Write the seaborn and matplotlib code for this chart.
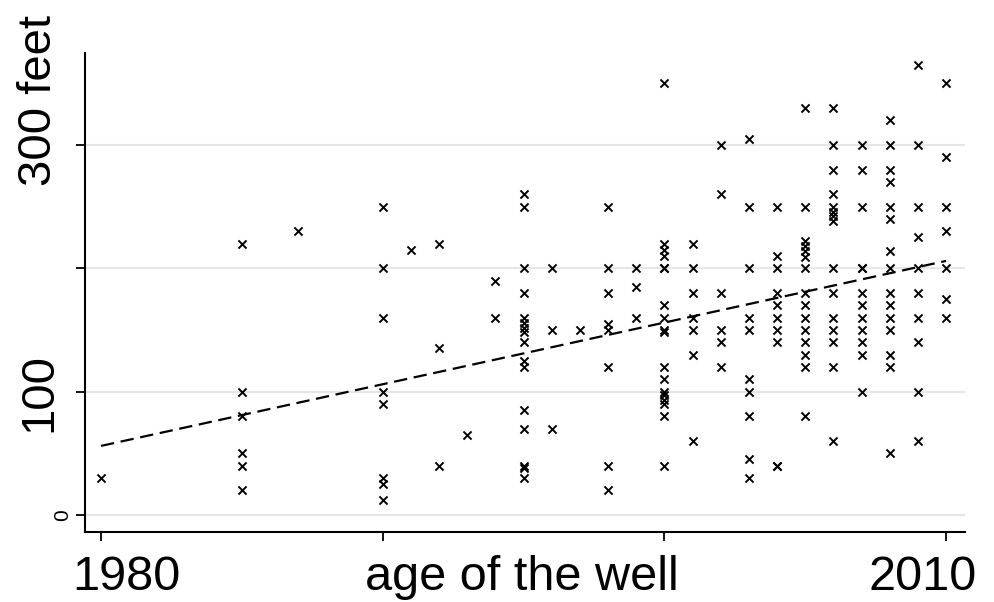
import numpy as np
import pandas as pd
import matplotlib
matplotlib.use("Agg")
import matplotlib.pyplot as plt
import seaborn as sns

# ---- data ----
yr_1980 = [30]
yr_1985 = [220, 100, 80, 50, 40, 20]
yr_1987 = [230]
yr_1990 = [250, 200, 160, 100, 90, 30, 25, 12]
yr_1991 = [215]
yr_1992 = [220, 135, 40]
yr_1993 = [65]
yr_1994 = [190, 160]
yr_1995 = [260, 250, 200, 180, 160, 156, 152, 148, 140, 125, 120, 85, 70, 40, 38, 30]
yr_1996 = [200, 150, 70]
yr_1997 = [150]
yr_1998 = [250, 200, 180, 155, 150, 120, 40, 20]
yr_1999 = [200, 185, 160]
yr_2000 = [350, 220, 215, 210, 200, 200, 170, 160, 150, 148, 120, 110, 100, 97, 93, 90, 80, 40]
yr_2001 = [220, 200, 180, 160, 150, 130, 60]
yr_2002 = [300, 260, 180, 150, 140, 120]
yr_2003 = [305, 250, 200, 160, 150, 110, 100, 80, 45, 30]
yr_2004 = [250, 210, 200, 180, 170, 160, 150, 140, 40, 40]
yr_2005 = [330, 250, 222, 218, 214, 209, 200, 180, 170, 160, 150, 140, 130, 120, 80]
yr_2006 = [330, 300, 280, 260, 250, 246, 242, 238, 200, 180, 160, 150, 140, 120, 60]
yr_2007 = [300, 280, 250, 200, 200, 180, 170, 160, 150, 140, 130, 100]
yr_2008 = [320, 300, 280, 270, 250, 240, 214, 200, 180, 170, 160, 150, 130, 120, 50]
yr_2009 = [365, 300, 250, 225, 200, 180, 160, 140, 100, 60]
yr_2010 = [350, 290, 250, 230, 200, 175, 160]

trend_years = [1980, 2010]
trend_depth = [56, 206]

x_ticks = [1980, 1990, 2000, 2010]
y_ticks = [0, 100, 200, 300]

groups = {
    1980: yr_1980, 1985: yr_1985, 1987: yr_1987, 1990: yr_1990, 1991: yr_1991,
    1992: yr_1992, 1993: yr_1993, 1994: yr_1994, 1995: yr_1995, 1996: yr_1996,
    1997: yr_1997, 1998: yr_1998, 1999: yr_1999, 2000: yr_2000, 2001: yr_2001,
    2002: yr_2002, 2003: yr_2003, 2004: yr_2004, 2005: yr_2005, 2006: yr_2006,
    2007: yr_2007, 2008: yr_2008, 2009: yr_2009, 2010: yr_2010,
}
df = pd.DataFrame([(y, d) for y, ds in groups.items() for d in ds], columns=["year", "depth"])
trend = pd.DataFrame({"year": trend_years, "depth": trend_depth})

sns.set_style("white")
plt.rcParams["font.family"] = ["Liberation Sans", "DejaVu Sans"]
plt.rcParams["text.color"] = "black"
plt.rcParams["xtick.color"] = "black"
plt.rcParams["ytick.color"] = "black"

W, H = 994, 602
fig = plt.figure(figsize=(W / 100, H / 100), dpi=100)
L, R, B, T = 85, 965, 532, 52.7
ax = fig.add_axes([L / W, 1 - B / H, (R - L) / W, (B - T) / H])

sns.scatterplot(data=df, x="year", y="depth", marker="x", color="black",
                s=34, linewidth=1.4, ax=ax, zorder=3)
sns.lineplot(data=trend, x="year", y="depth", color="black", lw=1.6,
             linestyle=(0, (6, 3)), ax=ax, zorder=2)

ax.set_xlim(1979.43, 2010.67)
ax.set_ylim(-13.8, 374.8)
ax.set_xticks(x_ticks)
ax.set_xticklabels([""] * len(x_ticks))
ax.set_yticks(y_ticks)
ax.set_yticklabels(["0", "", "", ""], rotation=90, va="center", fontsize=15, color="black")
ax.set_xlabel("")
ax.set_ylabel("")
ax.yaxis.grid(True, color="#e6e6e6", lw=1.5)
ax.xaxis.grid(False)
ax.set_axisbelow(True)
for s in ["top", "right"]:
    ax.spines[s].set_visible(False)
for s in ["left", "bottom"]:
    ax.spines[s].set_color("black")
    ax.spines[s].set_linewidth(1.5)
ax.tick_params(axis="both", which="both", direction="out", length=6.5, width=1.3,
               color="black", labelcolor="black", left=True, bottom=True)
ax.tick_params(axis="y", pad=3)

hfam, hsize = ["Liberation Sans", "DejaVu Sans"], 35

base_y = 1 - 590 / H
fig.text(126 / W, base_y, "1980", ha="center", va="baseline", family=hfam, fontsize=hsize, color="black")
fig.text(522 / W, base_y, "age of the well", ha="center", va="baseline", family=hfam, fontsize=hsize, color="black")
fig.text(923 / W, base_y, "2010", ha="center", va="baseline", family=hfam, fontsize=hsize, color="black")

fig.text(39 / W, 1 - 392 / H, "100", rotation=90, ha="center", va="center", fontsize=34, color="black")
fig.text(39 / W, 1 - 186 / H, "300 feet", rotation=90, ha="center", va="bottom", fontsize=34, color="black")

fig.savefig("out.png", dpi=100, facecolor="white")
